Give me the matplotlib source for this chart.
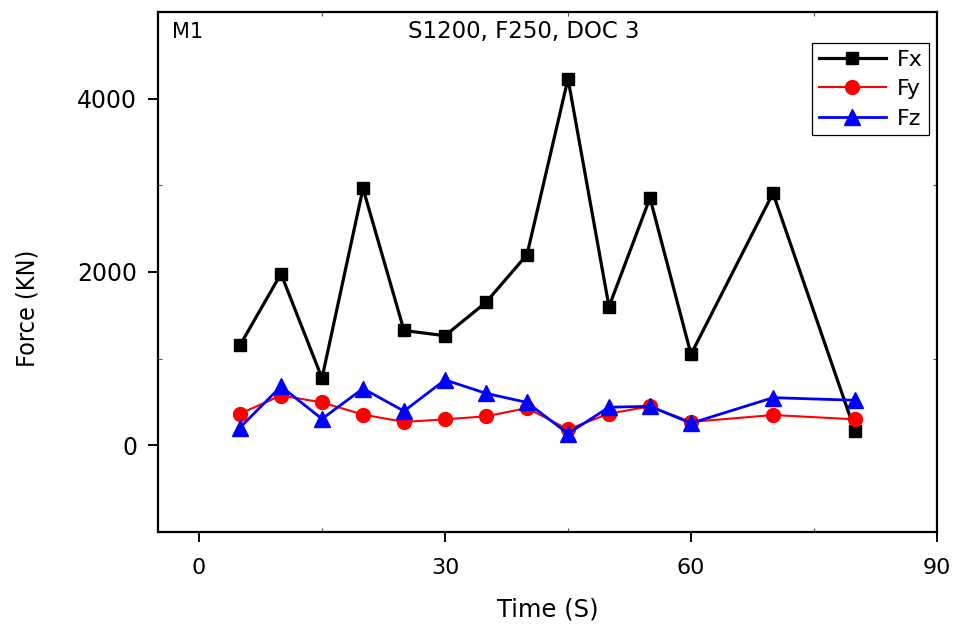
import matplotlib
matplotlib.use("Agg")
import matplotlib.pyplot as plt
from matplotlib.ticker import FixedLocator
from matplotlib import font_manager

# Cutting-force readings over time
time_s = [5, 10, 15, 20, 25, 30, 35, 40, 45, 50, 55, 60, 70, 80]
fx = [1155, 1980, 775, 2965, 1325, 1265, 1650, 2200, 4230, 1600, 2855, 1050, 2910, 165]
fy = [365, 575, 495, 355, 270, 300, 335, 430, 185, 365, 450, 270, 350, 300]
fz = [205, 680, 305, 655, 395, 755, 600, 495, 135, 440, 450, 255, 550, 520]

x_ticks = [0, 30, 60, 90]
y_ticks = [0, 2000, 4000]

# pick a condensed face for the vertical axis label if one is available
fonts = font_manager.fontManager.ttflist
names = {f.name for f in fonts}
ylabel_font = {"family": "Liberation Sans", "size": 17}
if "Liberation Sans Narrow" in names:
    ylabel_font = {"family": "Liberation Sans Narrow", "size": 19}
else:
    for f in fonts:
        if f.name == "DejaVu Sans" and "Condensed" in f.fname and "Bold" not in f.fname \
                and "Oblique" not in f.fname:
            ylabel_font = {"fname": f.fname, "size": 18}
            break

fig = plt.figure(figsize=(9.62, 6.32), dpi=100)
ax = fig.add_axes([158 / 962, 100 / 632, 779 / 962, 520 / 632])

ax.plot(time_s, fx, color="black", lw=2.3, marker="s", ms=9, label="Fx", zorder=3)
ax.plot(time_s, fy, color="red", lw=1.5, marker="o", ms=10, label="Fy", zorder=4)
ax.plot(time_s, fz, color="blue", lw=2.0, marker="^", ms=11, label="Fz", zorder=5)

ax.set_xlim(-5, 90)
ax.set_ylim(-1000, 5000)
ax.set_xticks(x_ticks)
ax.set_yticks(y_ticks)
ax.xaxis.set_minor_locator(FixedLocator([15, 45, 75]))
ax.yaxis.set_minor_locator(FixedLocator([-1000, 1000, 3000]))

ax.tick_params(which="major", direction="out", length=7, width=1.4,
               top=False, right=False)
ax.tick_params(which="minor", direction="in", length=3, width=0.8,
               top=True, right=True, bottom=True, left=True, color="#555555")
ax.tick_params(axis="x", which="major", labelsize=16, pad=12)
ax.tick_params(axis="y", which="major", labelsize=17, pad=8)
for lab in ax.get_xticklabels():
    lab.set_fontfamily("DejaVu Sans")
for lab in ax.get_yticklabels():
    lab.set_fontfamily("DejaVu Sans")

for sp in ax.spines.values():
    sp.set_linewidth(1.6)

fig.text(548 / 962, 1 - 610 / 632, "Time (S)", ha="center", va="center",
         fontsize=17.5, family="DejaVu Sans")
fig.text(27 / 962, 1 - 308 / 632, "Force (KN)", ha="center", va="center",
         rotation=90, fontproperties=font_manager.FontProperties(**ylabel_font))

ax.text(0.018, 0.962, "M1", transform=ax.transAxes, ha="left", va="center",
        fontsize=15, family="DejaVu Sans")
ax.text(0.470, 0.962, "S1200, F250, DOC 3", transform=ax.transAxes,
        ha="center", va="center", fontsize=16.5, family="DejaVu Sans")

leg = ax.legend(loc="upper right", bbox_to_anchor=(0.99, 0.94), frameon=True,
                fancybox=False, edgecolor="black", framealpha=1,
                prop={"family": "DejaVu Sans", "size": 16},
                handlelength=3.0, handletextpad=0.5, labelspacing=0.42,
                borderpad=0.3, borderaxespad=0.0)
leg.get_frame().set_linewidth(0.9)

fig.savefig("out.png", dpi=100, facecolor="white")
